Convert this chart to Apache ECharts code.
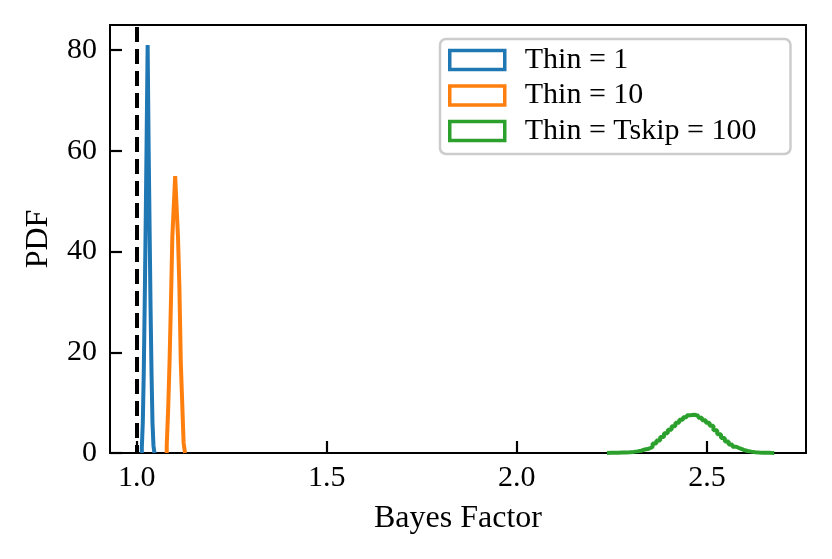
<!DOCTYPE html>
<html>
<head>
<meta charset="utf-8">
<script src="https://cdn.jsdelivr.net/npm/echarts@6/dist/echarts.min.js"></script>
<style>
  html, body { margin: 0; padding: 0; background: #fff; }
  #chart { width: 832px; height: 559px; }
</style>
</head>
<body>
<div id="chart"></div>
<script>
// histogram bins: first edge, bin width, density per bin
let names = ["Thin = 1", "Thin = 10", "Thin = Tskip = 100"];
let colors = ["#1f77b4", "#ff7f0e", "#2ca02c"];

let thin1Start = 1.0135, thin1Width = 0.00255;
let thin1 = [1, 6, 16, 30, 46, 63, 81, 61, 45, 29, 16, 6, 1.5];

let thin10Start = 1.079, thin10Width = 0.0037;
let thin10 = [1.5, 8.5, 18, 30, 43, 49, 55, 49, 43, 33, 18, 10, 2];

let thin100Start = 2.237, thin100Width = 0.01;
let thin100 = [0.03, 0.04, 0.06, 0.08, 0.1, 0.15, 0.22, 0.32, 0.45, 0.7,
  0.85, 1.2, 1.9, 2.5, 3.2, 3.9, 4.6, 5.3, 6.0, 6.6,
  7.1, 7.5, 7.6, 7.4, 7.0, 6.5, 6.0, 5.4, 4.5, 3.7,
  3.0, 2.3, 1.7, 1.25, 0.9, 0.6, 0.4, 0.27, 0.17, 0.11,
  0.07, 0.04, 0.025, 0.015];

let xTicks = [1.0, 1.5, 2.0, 2.5];
let refLine = 1.0;

// outline of a step histogram
function stepLine(start, width, vals) {
  let pts = [[start, 0]];
  vals.forEach(function(v, i) {
    pts.push([start + i * width, v]);
    pts.push([start + (i + 1) * width, v]);
  });
  pts.push([start + vals.length * width, 0]);
  return pts;
}

let hists = [
  stepLine(thin1Start, thin1Width, thin1),
  stepLine(thin10Start, thin10Width, thin10),
  stepLine(thin100Start, thin100Width, thin100)
];

let font = "Liberation Serif";
let myChart = echarts.init(document.getElementById("chart"));

let series = hists.map(function(d, i) {
  return {
    name: names[i],
    type: "line",
    data: d,
    showSymbol: false,
    symbol: "none",
    lineStyle: { color: colors[i], width: 4 },
    itemStyle: { color: colors[i] },
    z: 3 + i
  };
});
series[0].markLine = {
  silent: true,
  symbol: "none",
  label: { show: false },
  lineStyle: { color: "#000", width: 4, type: [15, 7], dashOffset: 7 },
  data: [{ xAxis: refLine }]
};

myChart.setOption({
  animation: false,
  backgroundColor: "#fff",
  grid: {
    left: 110, top: 25, right: 26, bottom: 106,
    show: true, borderColor: "#000", borderWidth: 2, backgroundColor: "transparent"
  },
  legend: {
    left: 440, top: 39,
    orient: "vertical",
    padding: [6, 34, 8, 8],
    itemWidth: 55, itemHeight: 19,
    itemGap: 5.5,
    backgroundColor: "#fff",
    borderColor: "#cccccc",
    borderWidth: 2.5,
    borderRadius: 6,
    textStyle: { fontFamily: font, fontSize: 30, lineHeight: 30, color: "#000", padding: [0, 0, 0, 15] },
    data: names.map(function(n, i) {
      return {
        name: n, icon: "rect",
        itemStyle: { color: "rgba(0,0,0,0)", borderColor: colors[i], borderWidth: 3.5 }
      };
    })
  },
  xAxis: {
    type: "value",
    min: 0.9298, max: 2.7605,
    name: "Bayes Factor",
    nameLocation: "middle",
    nameGap: 50,
    nameTextStyle: { fontFamily: font, fontSize: 32, color: "#000" },
    axisLine: { onZero: false, lineStyle: { color: "#000", width: 2 } },
    axisTick: { inside: true, length: 12, lineStyle: { color: "#000", width: 2.2 }, customValues: xTicks },
    axisLabel: {
      customValues: xTicks, margin: 10,
      fontFamily: font, fontSize: 30, color: "#000",
      formatter: function(v) { return v.toFixed(1); }
    },
    splitLine: { show: false }
  },
  yAxis: {
    type: "value",
    min: 0, max: 85, interval: 20,
    name: "PDF",
    nameLocation: "middle",
    nameGap: 55,
    nameTextStyle: { fontFamily: font, fontSize: 32, color: "#000" },
    axisLine: { show: true, lineStyle: { color: "#000", width: 2 } },
    axisTick: { show: true, inside: true, length: 12, lineStyle: { color: "#000", width: 2.2 } },
    axisLabel: { margin: 13, fontFamily: font, fontSize: 30, color: "#000" },
    splitLine: { show: false }
  },
  series: series
});
</script>
</body>
</html>
